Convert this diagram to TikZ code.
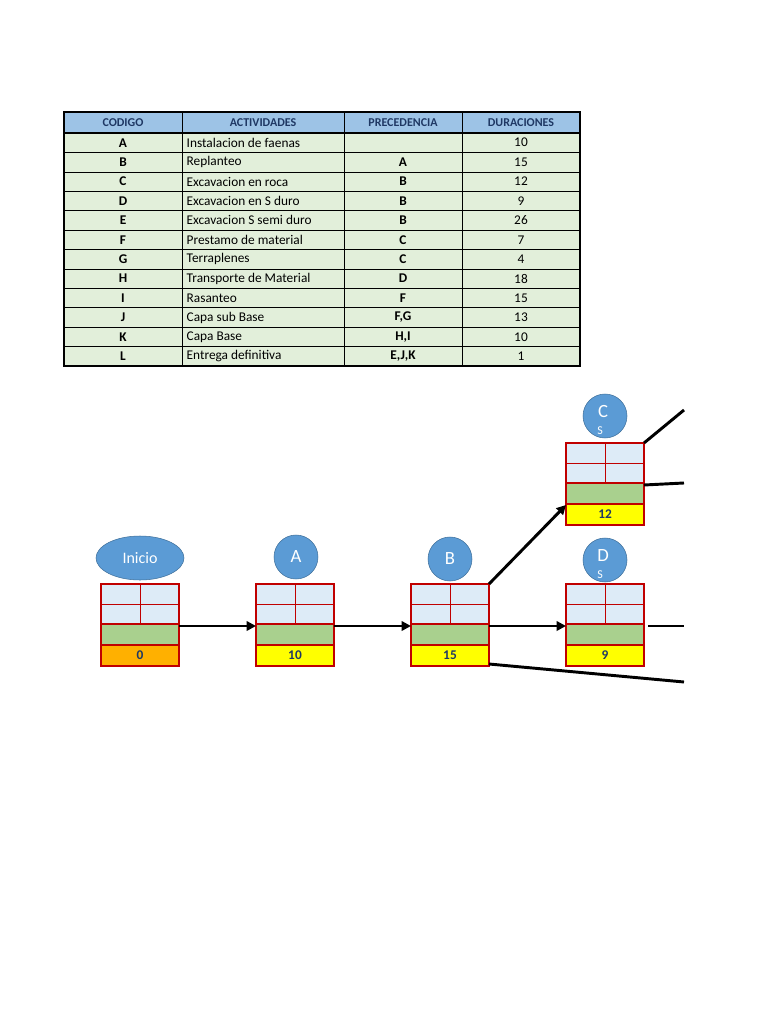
\documentclass[tikz,border=0pt]{standalone}
\usepackage{fontspec}
\setmainfont{Carlito}
\usetikzlibrary{arrows.meta,shapes.geometric}
\definecolor{hdr}{HTML}{9DC3E6}
\definecolor{rowc}{HTML}{E2EFDA}
\definecolor{bred}{HTML}{C00000}
\definecolor{lblue}{HTML}{DDEBF7}
\definecolor{gr}{HTML}{A9D08E}
\definecolor{yel}{HTML}{FFFF00}
\definecolor{org}{HTML}{FFB000}
\definecolor{circ}{HTML}{5B9BD5}
\definecolor{circd}{HTML}{41719C}
\definecolor{txt}{HTML}{1F3864}
\begin{document}
\begin{tikzpicture}[x=0.75pt,y=-0.75pt,
  cell/.style={draw=bred,line width=1pt},
  lab/.style={circle,fill=circ,draw=circd,minimum size=44*0.75pt,inner sep=0,text=white,font=\fontsize{14}{14}\selectfont},
  con/.style={line width=2.2pt},
  arr/.style={con,-{Triangle[length=7pt,width=7pt]}},
  num/.style={font=\fontsize{10}{10}\selectfont\bfseries,text=txt}]
\useasboundingbox (0,0) rectangle (768,1024);
% table
\fill[hdr] (64,112) rectangle (580,133);
\fill[rowc] (64,133) rectangle (580,366);
\foreach \x in {182,344,462} \draw[line width=0.5pt] (\x,112) -- (\x,366);
\draw[line width=0.8pt] (64,112) rectangle (580,366);
\foreach \i in {0,...,11} \draw[line width=0.5pt] (64,{133+\i*19.42}) -- (580,{133+\i*19.42});
\draw[line width=1.2pt] (64,133) -- (580,133);
\node[font=\fontsize{9}{9}\selectfont\bfseries,text=txt] (h1) at (123,122.5) {CODIGO};
\node[font=\fontsize{9}{9}\selectfont\bfseries,text=txt] (h2) at (263,122.5) {ACTIVIDADES};
\node[font=\fontsize{9}{9}\selectfont\bfseries,text=txt] (h3) at (403,122.5) {PRECEDENCIA};
\node[font=\fontsize{9}{9}\selectfont\bfseries,text=txt] (h4) at (521,122.5) {DURACIONES};
\foreach \c/\a/\p/\d [count=\i from 0] in {A/Instalacion de faenas//10,B/Replanteo/A/15,C/Excavacion en roca/B/12,D/Excavacion en S duro/B/9,E/Excavacion S semi duro/B/26,F/Prestamo de material/C/7,G/Terraplenes/C/4,H/Transporte de Material/D/18,I/Rasanteo/F/15,J/Capa sub Base/{F,G}/13,K/Capa Base/{H,I}/10,L/Entrega definitiva/{E,J,K}/1}{
  \node[font=\fontsize{10}{10}\selectfont\bfseries] (c\i) at (123,{142.7+\i*19.42}) {\c};
  \node[anchor=west,font=\fontsize{10}{10}\selectfont] (a\i) at (182,{142.7+\i*19.42}) {\a};
  \node[font=\fontsize{10}{10}\selectfont\bfseries] (p\i) at (403,{142.7+\i*19.42}) {\p};
  \node[font=\fontsize{10}{10}\selectfont] (d\i) at (521,{142.7+\i*19.42}) {\d};
}
% boxes
\newcommand{\actbox}[5]{% name, x, y, bottom fill, number
  \fill[lblue] (#2,#3) rectangle ++(78,40);
  \fill[gr] (#2,#3+40) rectangle ++(78,21);
  \fill[#4] (#2,#3+61) rectangle ++(78,21);
  \draw[bred,line width=0.6pt] (#2+39,#3) -- (#2+39,#3+40) (#2,#3+20) -- (#2+78,#3+20);
  \draw[cell] (#2,#3) rectangle ++(78,82);
  \draw[cell] (#2,#3+40) -- ++(78,0) (#2,#3+61) -- ++(78,0);
  \node[num] (#1n) at (#2+39,#3+71.5) {#5};
  \coordinate (#1w) at (#2,#3+42);
  \coordinate (#1e) at (#2+78,#3+42);
  \coordinate (#1ne) at (#2+78,#3);
  \coordinate (#1se) at (#2+78,#3+80);
  \coordinate (#1sw) at (#2,#3+62);
}
\actbox{I}{101}{584}{org}{0}
\actbox{A}{256}{584}{yel}{10}
\actbox{B}{411}{584}{yel}{15}
\actbox{D}{566}{584}{yel}{9}
\actbox{C}{566}{443}{yel}{12}
\node[ellipse,fill=circ,draw=circd,minimum width=88*0.75pt,minimum height=44*0.75pt,inner sep=0,text=white,font=\fontsize{12}{12}\selectfont] (ini) at (140,558) {Inicio};
\node[lab] (la) at (296,557) {A};
\node[lab] (lb) at (450,559) {B};
\node[lab] (lc) at (605,416) {};
\node[text=white,font=\fontsize{14}{14}\selectfont] (lct) at (603,412) {C};
\node[text=white,font=\fontsize{9}{9}\selectfont] (lcs) at (600,431) {S};
\node[lab] (ld) at (605,560) {};
\node[text=white,font=\fontsize{14}{14}\selectfont] (ldt) at (603,556) {D};
\node[text=white,font=\fontsize{9}{9}\selectfont] (lds) at (600,575) {S};
% connectors
\coordinate (o1) at (684,410);
\coordinate (o2) at (684,483);
\coordinate (o3) at (684,626);
\coordinate (o4) at (684,682);
\coordinate (Dx) at (648,626);
\draw[arr] (Ie) -- (Aw);
\draw[arr] (Ae) -- (Bw);
\draw[arr] (Be) -- (Dw);
\draw[arr] (Bne) -- (Csw);
\draw[con] (Cne) -- (o1);
\draw[con] (Ce) -- (o2);
\draw[con] (Dx) -- (o3);
\draw[con] (Bse) -- (o4);
\end{tikzpicture}
\end{document}
